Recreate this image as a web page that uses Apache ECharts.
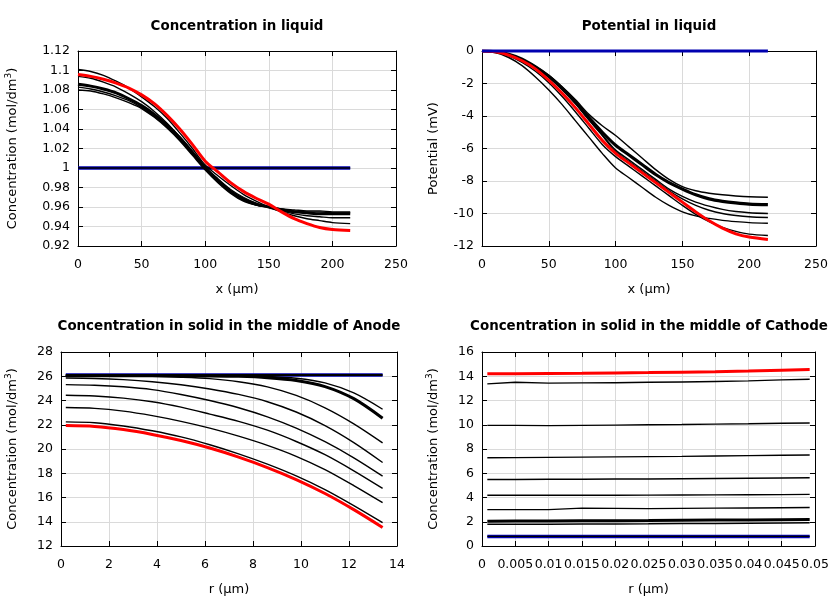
<!DOCTYPE html>
<html>
<head>
<meta charset="utf-8">
<script src="https://cdn.jsdelivr.net/npm/echarts@6/dist/echarts.min.js"></script>
<style>html,body{margin:0;padding:0;background:#fff;}#c{width:840px;height:600px;}</style>
</head>
<body>
<div id="c"></div>
<script>
// ---------- Panel 1: Concentration in liquid ----------
const liqX = [0,10,20,30,40,50,60,70,80,90,100,110,120,130,140,150,160,170,180,190,200,214];
const liqInitX = [0, 214];
const concLiqInit = [1, 1];
const concLiq1 = [1.101,1.099,1.095,1.089,1.082,1.073,1.063,1.051,1.036,1.020,1.003,0.992,0.982,0.973,0.966,0.960,0.955,0.951,0.948,0.946,0.944,0.943];
const concLiq2 = [1.094,1.092,1.088,1.083,1.076,1.068,1.058,1.046,1.032,1.017,1.001,0.989,0.978,0.970,0.964,0.960,0.956,0.953,0.951,0.950,0.949,0.949];
const concLiq3 = [1.086,1.084,1.081,1.077,1.071,1.064,1.055,1.044,1.031,1.016,1.000,0.987,0.976,0.968,0.963,0.960,0.957,0.955,0.954,0.953,0.953,0.953];
const concLiq4 = [1.083,1.081,1.078,1.074,1.069,1.062,1.053,1.042,1.029,1.014,0.999,0.986,0.975,0.967,0.962,0.960,0.958,0.956,0.955,0.955,0.954,0.954];
const concLiq5 = [1.080,1.079,1.076,1.072,1.067,1.061,1.052,1.041,1.028,1.013,0.998,0.985,0.974,0.966,0.962,0.960,0.958,0.957,0.956,0.956,0.955,0.955];
const concLiqFinal = [1.096,1.094,1.091,1.087,1.082,1.075,1.066,1.054,1.040,1.024,1.007,0.996,0.985,0.976,0.969,0.963,0.955,0.948,0.943,0.939,0.937,0.936];

// ---------- Panel 2: Potential in liquid ----------
const potInit = [0, 0];
const pot1 = [0,-0.04,-0.2,-0.5,-0.95,-1.5,-2.2,-3.0,-3.9,-4.6,-5.2,-5.9,-6.6,-7.3,-7.9,-8.35,-8.6,-8.75,-8.85,-8.92,-8.97,-9.0];
const pot2 = [0,-0.04,-0.2,-0.5,-0.97,-1.55,-2.3,-3.15,-4.1,-5.0,-5.8,-6.4,-7.0,-7.6,-8.1,-8.5,-8.85,-9.1,-9.25,-9.35,-9.42,-9.45];
const pot3 = [0,-0.04,-0.2,-0.52,-1.0,-1.6,-2.35,-3.2,-4.2,-5.15,-6.1,-6.7,-7.3,-7.9,-8.5,-8.95,-9.3,-9.55,-9.75,-9.88,-9.95,-10.0];
const pot4 = [0,-0.04,-0.2,-0.52,-1.0,-1.62,-2.38,-3.25,-4.25,-5.2,-6.2,-6.8,-7.4,-8.0,-8.6,-9.1,-9.5,-9.8,-10.0,-10.12,-10.2,-10.25];
const pot5 = [0,-0.1,-0.4,-0.9,-1.6,-2.4,-3.3,-4.3,-5.3,-6.3,-7.2,-7.8,-8.4,-9.0,-9.5,-9.9,-10.15,-10.3,-10.42,-10.5,-10.56,-10.6];
const pot6 = [0,-0.07,-0.3,-0.7,-1.25,-1.95,-2.8,-3.75,-4.75,-5.75,-6.5,-7.1,-7.7,-8.3,-8.9,-9.5,-10.05,-10.5,-10.85,-11.1,-11.27,-11.35];
const potFinal = [0,-0.05,-0.25,-0.6,-1.1,-1.8,-2.6,-3.5,-4.5,-5.5,-6.3,-6.9,-7.5,-8.1,-8.7,-9.3,-9.9,-10.45,-10.9,-11.25,-11.45,-11.6];

// ---------- Panel 3: Concentration in solid, Anode ----------
const anR = [0.2,1.4,2.6,3.8,5.0,6.2,7.4,8.6,9.8,11.0,12.2,13.4];
const anInitR = [0.2, 13.4];
const anInit = [26.1, 26.1];
const anA = [26.06,26.06,26.06,26.06,26.055,26.05,26.03,25.98,25.83,25.45,24.62,23.28];
const anB = [26.05,26.05,26.05,26.05,26.04,26.03,25.99,25.88,25.65,25.15,24.15,22.54];
const anC = [26.04,26.035,26.02,25.99,25.92,25.8,25.55,25.12,24.42,23.4,22.08,20.51];
const anD = [25.86,25.82,25.72,25.55,25.3,24.95,24.5,23.9,23.05,21.93,20.53,18.89];
const anE = [25.31,25.26,25.13,24.9,24.5,24.0,23.4,22.65,21.72,20.6,19.27,17.76];
const anF = [24.43,24.37,24.2,23.9,23.45,22.88,22.28,21.55,20.62,19.53,18.2,16.75];
const anG = [23.42,23.35,23.12,22.75,22.28,21.72,21.06,20.3,19.4,18.3,16.98,15.57];
const anH = [22.24,22.17,21.9,21.5,21.0,20.35,19.6,18.75,17.78,16.65,15.33,13.92];
const anFinal = [21.93,21.86,21.6,21.2,20.7,20.08,19.33,18.47,17.48,16.33,15.0,13.53];

// ---------- Panel 4: Concentration in solid, Cathode ----------
const caR = [0.0008,0.005,0.01,0.015,0.02,0.025,0.03,0.035,0.04,0.045,0.0492];
const caInitR = [0.0008, 0.0492];
const caInit = [0.79, 0.79];
const ca1 = [13.37,13.5,13.43,13.45,13.47,13.5,13.53,13.57,13.62,13.7,13.75];
const ca2 = [9.95,9.95,9.93,9.95,9.97,10.0,10.02,10.05,10.08,10.12,10.15];
const ca3 = [7.28,7.29,7.31,7.33,7.35,7.37,7.39,7.42,7.45,7.48,7.5];
const ca4 = [5.48,5.49,5.5,5.51,5.52,5.53,5.55,5.57,5.59,5.61,5.63];
const ca5 = [4.18,4.18,4.18,4.18,4.19,4.2,4.21,4.22,4.23,4.24,4.26];
const ca6 = [3.0,3.0,3.0,3.12,3.1,3.08,3.1,3.12,3.13,3.15,3.17];
const ca7 = [2.05,2.06,2.07,2.08,2.09,2.1,2.12,2.14,2.15,2.17,2.18];
const ca8 = [1.8,1.8,1.8,1.81,1.82,1.83,1.85,1.86,1.88,1.9,1.92];
const caFinal = [14.2,14.2,14.22,14.24,14.27,14.3,14.34,14.38,14.43,14.5,14.55];

// ---------- Titles / labels ----------
const titles = ['Concentration in liquid', 'Potential in liquid', 'Concentration in solid in the middle of Anode', 'Concentration in solid in the middle of Cathode'];
const xNames = ['x (µm)', 'x (µm)', 'r (µm)', 'r (µm)'];
const CONC_NAME = '{a|Concentration (mol/dm}{s|3}{a|)}';
const yNames = [CONC_NAME, '{a|Potential (mV)}', CONC_NAME, CONC_NAME];

const FONT = 'DejaVu Sans';
const grids = [
  {left: 78, top: 51, width: 318, height: 195},
  {left: 482, top: 51, width: 334, height: 195},
  {left: 61, top: 352, width: 336, height: 194},
  {left: 482, top: 352, width: 333, height: 194}
];
const axisCfg = [
  {xmin: 0, xmax: 250, xint: 50, ymin: 0.92, ymax: 1.12, yint: 0.02, yGap: 57, smooth: 0.3},
  {xmin: 0, xmax: 250, xint: 50, ymin: -12, ymax: 0, yint: 2, yGap: 40, smooth: 0.3},
  {xmin: 0, xmax: 14, xint: 2, ymin: 12, ymax: 28, yint: 2, yGap: 40, smooth: 0.3},
  {xmin: 0, xmax: 0.05, xint: 0.005, ymin: 0, ymax: 16, yint: 2, yGap: 40, smooth: false}
];

const xAxis = [], yAxis = [];
const rich = {a: {fontFamily: FONT, fontSize: 13, color: '#000', lineHeight: 17}, s: {fontFamily: FONT, fontSize: 9, color: '#000', verticalAlign: 'top', lineHeight: 17, padding: [0,0,6,0]}};
axisCfg.forEach((c, i) => {
  const line = {show: true, onZero: false, lineStyle: {color: '#000', width: 1}};
  const tick = {show: true, inside: true, length: 5, lineStyle: {color: '#000', width: 1}};
  xAxis.push({type: 'value', gridIndex: i, position: 'bottom', min: c.xmin, max: c.xmax, interval: c.xint,
    axisLine: line, axisTick: tick,
    axisLabel: {color: '#000', fontFamily: FONT, fontSize: 12.5, margin: 12, hideOverlap: false, showMaxLabel: true, showMinLabel: true},
    splitLine: {show: true, lineStyle: {color: '#dadada', width: 1}},
    name: xNames[i], nameLocation: 'middle', nameGap: 37,
    nameTextStyle: {color: '#000', fontFamily: FONT, fontSize: 13}});
  xAxis.push({type: 'value', gridIndex: i, position: 'top', min: c.xmin, max: c.xmax, interval: c.xint,
    axisLine: line, axisTick: tick, axisLabel: {show: false}, splitLine: {show: false}});
  yAxis.push({type: 'value', gridIndex: i, position: 'left', min: c.ymin, max: c.ymax, interval: c.yint,
    axisLine: line, axisTick: tick,
    axisLabel: {color: '#000', fontFamily: FONT, fontSize: 12.5, margin: 8},
    splitLine: {show: true, lineStyle: {color: '#dadada', width: 1}},
    name: yNames[i], nameLocation: 'middle', nameGap: c.yGap, nameRotate: 90,
    nameTextStyle: {color: '#000', fontFamily: FONT, fontSize: 13, rich: rich}});
  yAxis.push({type: 'value', gridIndex: i, position: 'right', min: c.ymin, max: c.ymax, interval: c.yint,
    axisLine: line, axisTick: tick, axisLabel: {show: false}, splitLine: {show: false}});
});

function zip(xs, ys) { return xs.map((x, k) => [x, ys[k]]); }
const series = [];
function addLine(panel, xs, ys, color, width, extra) {
  series.push(Object.assign({
    type: 'line', xAxisIndex: panel * 2, yAxisIndex: panel * 2,
    data: zip(xs, ys), showSymbol: false, symbol: 'none', smooth: axisCfg[panel].smooth,
    lineStyle: {color: color, width: width}, animation: false, silent: true
  }, extra || {}));
}
const BLUE = '#0000b0', BLACK = '#000000', RED = '#ff0000';

// Panel 1
addLine(0, liqInitX, concLiqInit, BLUE, 3.5);
addLine(0, liqInitX, concLiqInit, BLACK, 1.3);
[concLiq1, concLiq2, concLiq4, concLiq5].forEach(s => addLine(0, liqX, s, BLACK, 1.4));
addLine(0, liqX, concLiq3, BLACK, 3);
addLine(0, liqX, concLiqFinal, RED, 3);

// Panel 2
[pot1, pot3, pot4, pot5, pot6].forEach(s => addLine(1, liqX, s, BLACK, 1.4));
addLine(1, liqX, pot2, BLACK, 3.2);
addLine(1, liqX, potFinal, RED, 3);
addLine(1, liqInitX, potInit, BLUE, 3, {clip: false});

// Panel 3
addLine(2, anInitR, anInit, BLUE, 3.5);
addLine(2, anInitR, anInit, BLACK, 2);
[anA, anC, anD, anE, anF, anG, anH].forEach(s => addLine(2, anR, s, BLACK, 1.4));
addLine(2, anR, anB, BLACK, 3);
addLine(2, anR, anFinal, RED, 3);

// Panel 4
addLine(3, caInitR, caInit, BLUE, 3.5);
addLine(3, caInitR, caInit, BLACK, 1.3);
[ca1, ca2, ca3, ca4, ca5, ca6, ca8].forEach(s => addLine(3, caR, s, BLACK, 1.4));
addLine(3, caR, ca7, BLACK, 3);
addLine(3, caR, caFinal, RED, 3);

const titlePos = [[237, 27], [649, 27], [229, 327], [649, 327]];
const graphic = titles.map((t, i) => ({
  type: 'text', x: titlePos[i][0], y: titlePos[i][1], silent: true,
  style: {text: t, font: 'bold 13.4px "DejaVu Sans"', fill: '#000', align: 'center', verticalAlign: 'middle', textAlign: 'center', textVerticalAlign: 'middle'}
}));

const chart = echarts.init(document.getElementById('c'), null, {renderer: 'canvas'});
chart.setOption({
  animation: false,
  backgroundColor: '#ffffff',
  grid: grids,
  xAxis: xAxis,
  yAxis: yAxis,
  series: series,
  graphic: graphic
});
</script>
</body>
</html>
